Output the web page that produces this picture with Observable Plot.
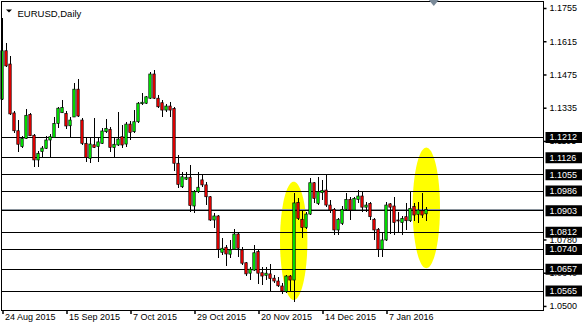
<!DOCTYPE html>
<html>
<head>
<meta charset="utf-8">
<script src="https://cdn.jsdelivr.net/npm/d3@7"></script>
<script src="https://cdn.jsdelivr.net/npm/@observablehq/plot@0.6"></script>
<style>
  html, body { margin: 0; padding: 0; background: #ffffff; }
  #chart { width: 582px; height: 327px; overflow: hidden; }
</style>
</head>
<body>
<div id="chart"></div>
<script>
// ---- data (EURUSD daily, bar index 0 = 24 Aug 2015) ----
const opens = [1.1371,1.1575,1.1519,1.1313,1.1238,1.1171,1.1206,1.1307,1.1219,1.1115,
1.1150,1.1164,1.1199,1.1209,1.1269,1.1314,1.1311,1.1259,1.1296,1.1413,
1.1283,1.1185,1.1122,1.1179,1.1171,1.1185,1.1234,1.1244,1.1167,1.1178,
1.1213,1.1182,1.1266,1.1234,1.1276,1.1352,1.1354,1.1375,1.1477,1.1375,
1.1356,1.1325,1.1342,1.1332,1.1101,1.1002,1.1034,1.1042,1.0921,1.0981,
1.1031,1.1010,1.0960,1.0862,1.0879,1.0726,1.0747,1.0718,1.0739,1.0803,
1.0736,1.0682,1.0638,1.0651,1.0729,1.0640,1.0629,1.0635,1.0617,1.0605,
1.0584,1.0560,1.0626,1.0609,1.0936,1.0865,1.0830,1.0887,1.1019,1.0932,
1.0977,1.0988,1.0925,1.0907,1.0820,1.0848,1.0907,1.0949,1.0904,1.0949,
1.0963,1.0916,1.0932,1.0865,1.0823,1.0739,1.0778,1.0930,1.0921,1.0862,
1.0851,1.0876,1.0859,1.0919,1.0886,1.0901,1.0888];
const highs = [1.1712,1.1608,1.1553,1.1321,1.1283,1.1216,1.1330,1.1313,1.1224,1.1154,
1.1174,1.1216,1.1224,1.1295,1.1340,1.1367,1.1323,1.1296,1.1438,1.1456,
1.1292,1.1209,1.1206,1.1291,1.1210,1.1248,1.1286,1.1255,1.1206,1.1316,
1.1262,1.1276,1.1279,1.1325,1.1360,1.1396,1.1384,1.1487,1.1494,1.1389,
1.1367,1.1351,1.1359,1.1338,1.1136,1.1065,1.1065,1.1094,1.0988,1.1065,
1.1052,1.1023,1.0963,1.0890,1.0883,1.0785,1.0757,1.0778,1.0823,1.0808,
1.0750,1.0686,1.0666,1.0757,1.0734,1.0666,1.0666,1.0677,1.0630,1.0623,
1.0597,1.0630,1.0630,1.0976,1.0956,1.0904,1.0897,1.1038,1.1023,1.1042,
1.1031,1.1056,1.0946,1.0911,1.0870,1.0921,1.0975,1.0960,1.0960,1.0988,
1.0981,1.0939,1.0939,1.0869,1.0827,1.0806,1.0939,1.0934,1.0960,1.0897,
1.0879,1.0932,1.0981,1.0932,1.0939,1.0975,1.0918];
const lows = [1.1368,1.1507,1.1304,1.1229,1.1150,1.1165,1.1203,1.1216,1.1085,1.1085,
1.1123,1.1159,1.1125,1.1207,1.1248,1.1313,1.1245,1.1210,1.1294,1.1296,
1.1178,1.1106,1.1101,1.1165,1.1106,1.1182,1.1230,1.1150,1.1129,1.1174,
1.1164,1.1168,1.1199,1.1230,1.1269,1.1346,1.1351,1.1372,1.1372,1.1335,
1.1297,1.1318,1.1297,1.1070,1.0996,1.0996,1.1031,1.0894,1.0893,1.0976,
1.1000,1.0925,1.0858,1.0827,1.0701,1.0715,1.0668,1.0701,1.0736,1.0707,
1.0673,1.0628,1.0609,1.0647,1.0592,1.0588,1.0609,1.0560,1.0595,1.0581,
1.0550,1.0556,1.0560,1.0515,1.0862,1.0785,1.0823,1.0883,1.0932,1.0925,
1.0946,1.0918,1.0893,1.0800,1.0800,1.0841,1.0904,1.0862,1.0902,1.0934,
1.0897,1.0897,1.0862,1.0778,1.0705,1.0705,1.0774,1.0804,1.0800,1.0813,
1.0800,1.0820,1.0854,1.0859,1.0851,1.0871,1.0858];
const closes = [1.1575,1.1511,1.1309,1.1238,1.1181,1.1206,1.1303,1.1217,1.1115,1.1143,
1.1165,1.1199,1.1213,1.1269,1.1333,1.1336,1.1258,1.1283,1.1413,1.1300,
1.1185,1.1125,1.1182,1.1168,1.1191,1.1237,1.1248,1.1168,1.1181,1.1203,
1.1178,1.1266,1.1231,1.1276,1.1354,1.1358,1.1381,1.1477,1.1375,1.1339,
1.1325,1.1342,1.1325,1.1101,1.1012,1.1044,1.1042,1.0923,1.0981,1.1000,
1.1010,1.0960,1.0862,1.0879,1.0739,1.0743,1.0719,1.0736,1.0803,1.0743,
1.0680,1.0635,1.0655,1.0724,1.0638,1.0626,1.0638,1.0615,1.0605,1.0585,
1.0563,1.0626,1.0609,1.0934,1.0869,1.0830,1.0887,1.1019,1.0953,1.0981,
1.0986,1.0925,1.0904,1.0820,1.0865,1.0907,1.0949,1.0904,1.0953,1.0963,
1.0916,1.0925,1.0876,1.0820,1.0739,1.0778,1.0925,1.0916,1.0851,1.0858,
1.0869,1.0859,1.0911,1.0883,1.0904,1.0883,1.0907];

const levels = [1.1212, 1.1126, 1.1055, 1.0986, 1.0903, 1.0812, 1.0740, 1.0657, 1.0565];
const priceTicks = [1.1755, 1.1615, 1.1475, 1.1335, 1.1195, 1.0780, 1.0640, 1.0500];
const dateTickIdx = [0, 16, 32, 48, 64, 80, 96];
const dateTickLabels = ["24 Aug 2015", "15 Sep 2015", "7 Oct 2015", "29 Oct 2015", "20 Nov 2015", "14 Dec 2015", "7 Jan 2016"];
const bidPrice = 1.0907;
const chartTitle = "EURUSD,Daily";
const shiftMarkerIdx = [107.7];
// highlight ellipses: centre (bar index, price) and radii (bars, price)
const hlCentreIdx = [72.8, 105.95];
const hlCentrePrice = [1.0774, 1.0913];
const hlRadiusIdx = [3.42, 3.42];
const hlRadiusPrice = [0.0249, 0.0254];

// ---- build tables ----
const bars = opens.map((o, i) => ({i, o, h: highs[i], l: lows[i], c: closes[i]}));
const ellipsePts = [];
hlCentreIdx.forEach((cx, k) => {
  const N = 60;
  for (let j = 0; j <= N; j++) {
    const t = Math.PI * j / N;
    ellipsePts.push({k, x: cx - hlRadiusIdx[k] * Math.cos(t),
      y1: hlCentrePrice[k] - hlRadiusPrice[k] * Math.sin(t),
      y2: hlCentrePrice[k] + hlRadiusPrice[k] * Math.sin(t)});
  }
});

// custom symbols
const sym = (fn) => ({draw(ctx) { fn(ctx); }});
const labelBox = sym(ctx => { ctx.rect(2, -5.5, 40, 11); });
const hTick = sym(ctx => { ctx.moveTo(0, 0); ctx.lineTo(3, 0); });
const vTick = sym(ctx => { ctx.moveTo(0, 0); ctx.lineTo(0, 3.5); });
const titleTri = sym(ctx => { ctx.moveTo(-3, -1.5); ctx.lineTo(3, -1.5); ctx.lineTo(0, 1.5); ctx.closePath(); });
const shiftTri = sym(ctx => { ctx.moveTo(-5, 0); ctx.lineTo(5, 0); ctx.lineTo(0, 6); ctx.closePath(); });

const font = "'Liberation Sans', Arial, sans-serif";

const chart = Plot.plot({
  width: 582,
  height: 327,
  marginLeft: 1,
  marginRight: 39,
  marginTop: 1,
  marginBottom: 17,
  style: {background: "#ffffff", fontFamily: font, fontSize: "9px", overflow: "visible"},
  x: {domain: [-0.375, 135.125], axis: null},
  y: {domain: [1.04829, 1.17845], axis: null},
  marks: [
    Plot.areaY(ellipsePts, {x: "x", y1: "y1", y2: "y2", z: "k", fill: "#ffff00", curve: "linear"}),
    Plot.ruleY(levels, {y: d => d, stroke: "#000000", strokeWidth: 1, shapeRendering: "crispEdges"}),
    Plot.ruleY([bidPrice], {y: d => d, stroke: "#8a939c", strokeWidth: 1, shapeRendering: "crispEdges"}),
    Plot.ruleX(bars, {x: "i", y1: "l", y2: "h", stroke: "#000000", strokeWidth: 1, dx: -0.5, shapeRendering: "crispEdges"}),
    Plot.rect(bars, {x1: d => d.i - 0.3, x2: d => d.i + 0.3, y1: "o", y2: "c",
      fill: d => d.c >= d.o ? "#00ff00" : "#ff0000", stroke: "#000000", strokeWidth: 0.7, dx: -0.5}),
    Plot.frame({stroke: "#000000"}),
    // x axis
    Plot.dot(dateTickIdx, {x: d => d, frameAnchor: "bottom", symbol: vTick, stroke: "#000000", fill: "none"}),
    Plot.text(dateTickIdx, {x: d => d, frameAnchor: "bottom", text: (d, k) => dateTickLabels[k],
      textAnchor: "start", dx: 2, dy: 9.5, fill: "#000000", fontSize: 9}),
    // y axis
    Plot.dot(priceTicks, {y: d => d, frameAnchor: "right", symbol: hTick, stroke: "#000000", fill: "none"}),
    Plot.text(priceTicks, {y: d => d, frameAnchor: "right", text: d => d.toFixed(4),
      textAnchor: "start", dx: 6, fill: "#000000", fontSize: 9}),
    Plot.dot(levels, {y: d => d, frameAnchor: "right", symbol: labelBox, fill: "#000000", stroke: "none"}),
    Plot.text(levels, {y: d => d, frameAnchor: "right", text: d => d.toFixed(4),
      textAnchor: "start", dx: 6, fill: "#ffffff", fontSize: 9}),
    // title & marker
    Plot.dot([chartTitle], {frameAnchor: "top-left", dx: 7.5, dy: 9.5, symbol: titleTri, fill: "#000000", stroke: "none"}),
    Plot.text([chartTitle], {frameAnchor: "top-left", text: d => d, textAnchor: "start", dx: 16, dy: 9, fill: "#000000", fontSize: 9.5}),
    Plot.dot(shiftMarkerIdx, {x: d => d, frameAnchor: "top", dy: -1.5, symbol: shiftTri, fill: "#7a8a99", stroke: "none"})
  ]
});
document.getElementById("chart").appendChild(chart);
</script>
</body>
</html>
